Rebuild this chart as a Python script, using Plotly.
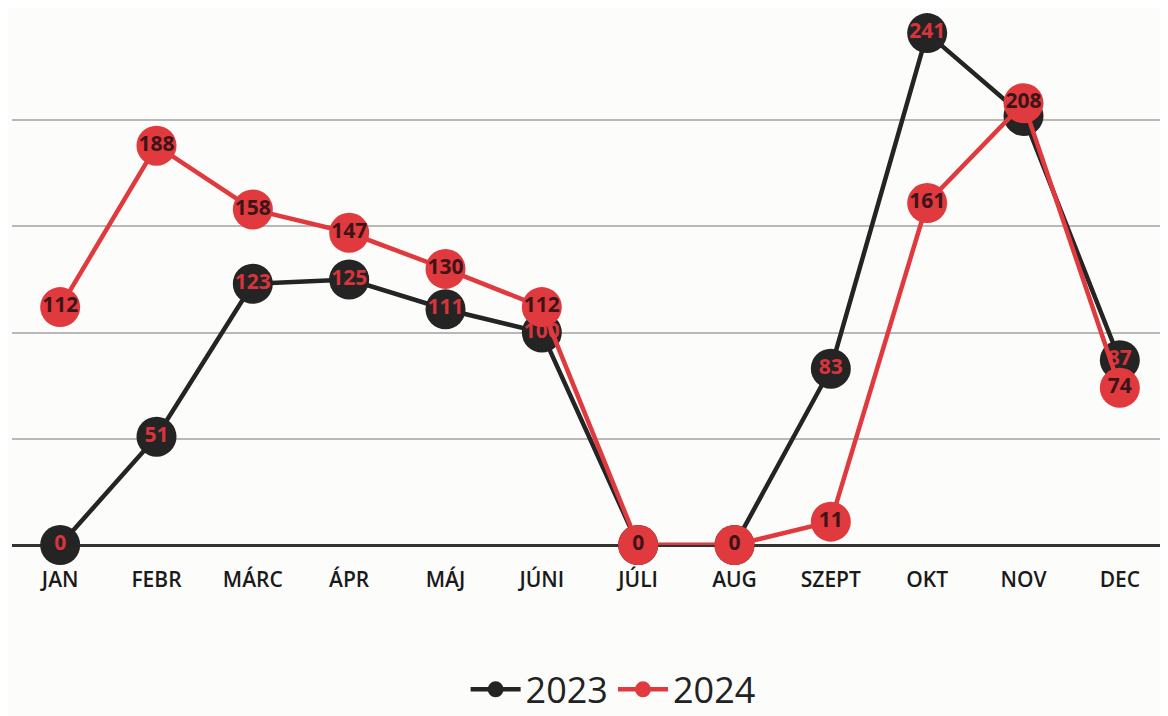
import plotly.graph_objects as go

months = ['JAN', 'FEBR', 'MÁRC', 'ÁPR', 'MÁJ', 'JÚNI', 'JÚLI', 'AUG', 'SZEPT', 'OKT', 'NOV', 'DEC']
v2023 = [0, 51, 123, 125, 111, 100, 0, 0, 83, 241, 202, 87]
v2024 = [112, 188, 158, 147, 130, 112, 0, 0, 11, 161, 208, 74]
# the 2023 NOV label sits hidden under the 2024 marker in the original
labels2023 = ['0', '51', '123', '125', '111', '100', '0', '0', '83', '241', '', '87']
labels2024 = [str(v) for v in v2024]

black = '#242424'
red = '#e0393e'

fig = go.Figure()

fig.add_trace(go.Scatter(
    x=months, y=v2023, name='2023',
    mode='lines+markers+text',
    line=dict(color=black, width=4.5),
    marker=dict(color=black, size=40),
    text=labels2023,
    textposition='middle center',
    textfont=dict(family='Open Sans', size=21, color='#d8343c', weight='bold'),
    cliponaxis=False,
))

fig.add_trace(go.Scatter(
    x=months, y=v2024, name='2024',
    mode='lines+markers+text',
    line=dict(color=red, width=4.5),
    marker=dict(color=red, size=40),
    text=labels2024,
    textposition='middle center',
    textfont=dict(family='Open Sans', size=21, color='#3d1518', weight='bold'),
    cliponaxis=False,
))

# page body adds 8px offset, so figure is sized a bit smaller
fig.update_layout(
    width=1160, height=708,
    margin=dict(l=4, r=0, t=6, b=171, autoexpand=False),
    paper_bgcolor='#fcfcfa',
    plot_bgcolor='#fcfcfa',
    font=dict(family='Open Sans', color='#1a1a1a'),
    showlegend=True,
    legend=dict(
        orientation='h', x=0.52, xanchor='center', y=-0.272, yanchor='middle',
        font=dict(size=36, color='#222'),
        itemwidth=50,
    ),
)

fig.update_xaxes(
    type='category', range=[-0.5, 11.5],
    showgrid=False, showline=False, zeroline=False,
    tickfont=dict(size=21, color='#1a1a1a', weight=600),
    ticks='', ticklabelstandoff=20,
)

fig.update_yaxes(
    range=[0, 250],
    showticklabels=False,
    showgrid=True, gridcolor='#b8b8b8', gridwidth=1.5,
    dtick=50,
    zeroline=True, zerolinecolor='#333333', zerolinewidth=2.5,
    showline=False,
)

fig.write_html('out.html')
